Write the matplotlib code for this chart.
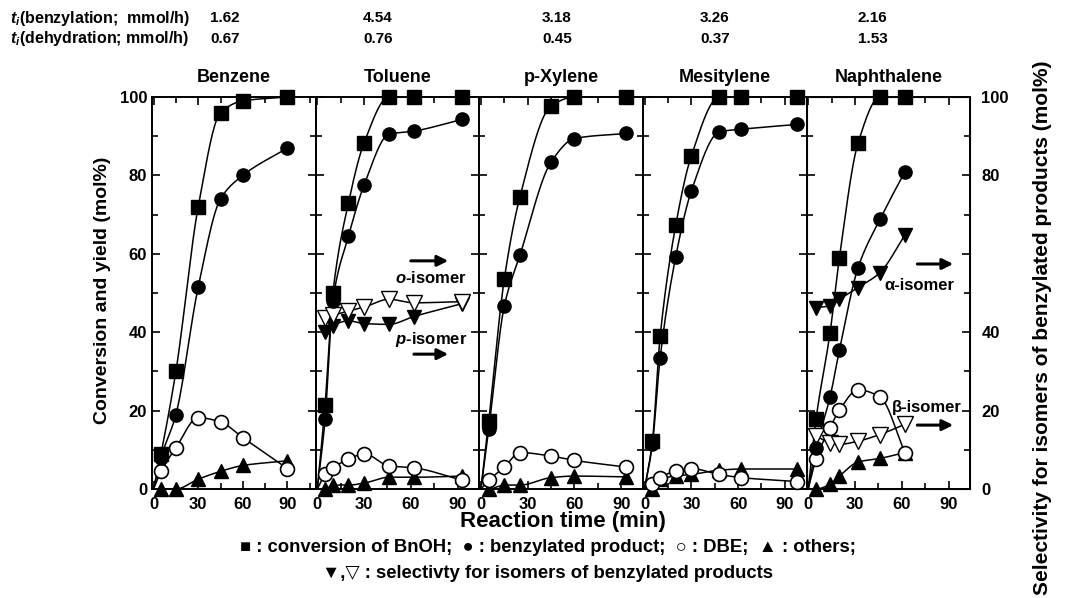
import numpy as np
import matplotlib
matplotlib.use("Agg")
import matplotlib.pyplot as plt
from matplotlib.ticker import MultipleLocator, FixedLocator, FixedFormatter

plt.rcParams['font.family'] = ['Liberation Sans', 'DejaVu Sans']
plt.rcParams['font.weight'] = 'bold'
plt.rcParams['mathtext.fontset'] = 'custom'
plt.rcParams['mathtext.bfit'] = 'Liberation Sans:italic:bold'
plt.rcParams['mathtext.it'] = 'Liberation Sans:italic:bold'
plt.rcParams['mathtext.rm'] = 'Liberation Sans:bold'

# ---- data ----
solvents = ['Benzene', 'Toluene', 'p-Xylene', 'Mesitylene', 'Naphthalene']
rate_benzylation = ['1.62', '4.54', '3.18', '3.26', '2.16']
rate_dehydration = ['0.67', '0.76', '0.45', '0.37', '1.53']

benz_t = [5, 15, 30, 45, 60, 90]
benz_conv = [9, 30, 72, 96, 99, 100]
benz_prod = [8, 19, 51.5, 74, 80, 87]
benz_dbe = [4.5, 10.5, 18.2, 17.1, 13.1, 5.2]
benz_oth = [0, 0, 2.5, 4.5, 6, 7.2]

tol_t = [5, 10, 20, 30, 46, 62, 93]
tol_conv = [21.5, 50, 73, 88.3, 100, 100, 100]
tol_prod = [17.8, 48, 64.5, 77.5, 90.5, 91.3, 94.3]
tol_dbe = [3.7, 5.4, 7.6, 9, 5.9, 5.4, 2.2]
tol_oth = [0, 1, 1, 1.5, 3, 3, 3.3]
tol_ortho = [43.7, 44.3, 45.4, 46.4, 48.4, 47.5, 47.8]
tol_para = [40, 41.7, 42.9, 42.2, 42, 44, 47.3]

xyl_t = [5, 15, 25, 45, 60, 93]
xyl_conv = [17.3, 53.6, 74.5, 97.7, 100, 100]
xyl_prod = [15.2, 46.7, 59.6, 83.4, 89.4, 90.7]
xyl_dbe = [2.2, 5.6, 9.3, 8.4, 7.3, 5.6]
xyl_oth = [0, 1, 1, 2.9, 3.3, 3.1]

mes_t = [5, 10, 20, 30, 48, 62, 98]
mes_conv = [12.2, 39, 67.3, 85, 100, 100, 100]
mes_prod = [11.4, 33.5, 59.3, 76, 91.1, 91.8, 93]
mes_dbe = [1.4, 2.9, 4.6, 5.2, 3.7, 2.9, 1.9]
mes_oth = [0, 2.5, 3.3, 3.7, 4.8, 5.1, 5.1]

nap_t = [5, 14, 20, 32, 46, 62]
nap_conv = [17.8, 39.9, 59, 88.3, 100, 100]
nap_prod = [10.5, 23.5, 35.4, 56.5, 68.8, 80.9]
nap_dbe = [7.6, 15.6, 20.1, 25.3, 23.5, 9.3]
nap_oth = [0, 1.2, 3.3, 6.9, 7.8, 9.3]
nap_alpha = [46.3, 46.7, 48.4, 51.4, 55.2, 64.8]
nap_beta = [13.5, 11.8, 11.4, 12.2, 13.9, 16.5]

panels = [
    (benz_t, benz_conv, benz_prod, benz_dbe, benz_oth, None, None),
    (tol_t, tol_conv, tol_prod, tol_dbe, tol_oth, tol_ortho, tol_para),
    (xyl_t, xyl_conv, xyl_prod, xyl_dbe, xyl_oth, None, None),
    (mes_t, mes_conv, mes_prod, mes_dbe, mes_oth, None, None),
    (nap_t, nap_conv, nap_prod, nap_dbe, nap_oth, nap_beta, nap_alpha),
]


def smooth(x, y, n=300):
    # monotone cubic (Fritsch-Carlson) curve through the points
    x = np.asarray(x, float)
    y = np.asarray(y, float)
    h = np.diff(x)
    d = np.diff(y) / h
    m = np.zeros_like(y)
    m[0] = d[0]
    m[-1] = d[-1]
    for k in range(1, len(x) - 1):
        if d[k - 1] * d[k] > 0:
            w1 = 2 * h[k] + h[k - 1]
            w2 = h[k] + 2 * h[k - 1]
            m[k] = (w1 + w2) / (w1 / d[k - 1] + w2 / d[k])
    xs = np.linspace(x[0], x[-1], n)
    i = np.clip(np.searchsorted(x, xs) - 1, 0, len(x) - 2)
    s = (xs - x[i]) / h[i]
    h00 = 2 * s**3 - 3 * s**2 + 1
    h10 = s**3 - 2 * s**2 + s
    h01 = -2 * s**3 + 3 * s**2
    h11 = s**3 - s**2
    ys = h00 * y[i] + h10 * h[i] * m[i] + h01 * y[i + 1] + h11 * h[i] * m[i + 1]
    return xs, ys


fig, axes = plt.subplots(1, 5, figsize=(10.71, 5.98), dpi=100, sharey=True)
fig.subplots_adjust(left=0.142, right=0.906, top=1 - 97 / 598, bottom=1 - 489 / 598, wspace=0)

lw = 1.1
for k, ax in enumerate(axes):
    t, conv, prod, dbe, oth, open_v, fill_v = panels[k]
    for ys in (conv, prod, dbe, oth):
        xs_, ys_ = smooth([0] + t, [0] + ys)
        ax.plot(xs_, ys_, color='black', lw=lw, zorder=2)
    if open_v is not None:
        xs_, ys_ = smooth(t, open_v)
        ax.plot(xs_, ys_, color='black', lw=lw, zorder=2)
        xs_, ys_ = smooth(t, fill_v)
        ax.plot(xs_, ys_, color='black', lw=lw, zorder=2)
        ax.plot(t, fill_v, 'v', ms=10, mfc='black', mec='black', ls='none', zorder=3, clip_on=False)
        ax.plot(t, open_v, 'v', ms=11, mfc='white', mec='black', mew=1.0, ls='none', zorder=3, clip_on=False)
    ax.plot(t, oth, '^', ms=9.5, color='black', ls='none', zorder=4, clip_on=False)
    ax.plot(t, dbe, 'o', ms=10, mfc='white', mec='black', mew=1.2, ls='none', zorder=4, clip_on=False)
    ax.plot(t, prod, 'o', ms=9.5, color='black', ls='none', zorder=5, clip_on=False)
    ax.plot(t, conv, 's', ms=9.5, color='black', ls='none', zorder=6, clip_on=False)

    ax.set_xlim(-1, 109 if k == 0 else 104)
    ax.set_ylim(0, 100)
    ax.xaxis.set_major_locator(FixedLocator([0, 30, 60, 90]))
    ax.xaxis.set_minor_locator(MultipleLocator(15))
    ax.yaxis.set_major_locator(MultipleLocator(20))
    ax.yaxis.set_minor_locator(MultipleLocator(10))
    ax.tick_params(which='both', direction='in', top=True, right=True, labelsize=12, width=1.2)
    ax.tick_params(which='major', length=6)
    ax.tick_params(which='minor', length=4)
    ax.tick_params(axis='x', pad=6)
    for sp in ax.spines.values():
        sp.set_linewidth(1.4)
    ax.set_title(solvents[k], fontsize=13, fontweight='bold', pad=11)
    for lab in ax.get_xticklabels() + ax.get_yticklabels():
        lab.set_fontweight('bold')

fig.text(103 / 1071, 1 - 290 / 598, 'Conversion and yield (mol%)', rotation=90, ha='center', va='center',
         fontsize=14, fontweight='bold')
fig.text(563 / 1071, 1 - 522 / 598, 'Reaction time (min)', ha='center', va='center', fontsize=16,
         fontweight='bold')

# right axis (selectivity)
axr = axes[4].twinx()
axr.set_ylim(0, 100)
axr.yaxis.set_major_locator(FixedLocator([0, 20, 40, 60, 80, 100]))
axr.yaxis.set_major_formatter(FixedFormatter(['0', '20', '40', '', '80', '100']))
axr.yaxis.set_minor_locator(MultipleLocator(10))
axr.tick_params(which='both', direction='in', labelsize=12, width=1.2, pad=8)
axr.tick_params(which='major', length=6)
axr.tick_params(which='minor', length=4)
for lab in axr.get_yticklabels():
    lab.set_fontweight('bold')
fig.text(1043 / 1071, 1 - 328 / 598, 'Selectivity for isomers of benzylated products (mol%)', rotation=90,
         ha='center', va='center', fontsize=15, fontweight='bold')

# isomer labels with arrows
arrow = dict(arrowstyle='-|>', lw=2.2, color='black', mutation_scale=16, shrinkA=0, shrinkB=0)
ax = axes[1]
ax.annotate('', xy=(84, 58.2), xytext=(60, 58.2), arrowprops=arrow)
ax.text(73, 53.8, r'$\mathbfit{o}$-isomer', ha='center', va='center', fontsize=12, fontweight='bold')
ax.text(73, 38.2, r'$\mathbfit{p}$-isomer', ha='center', va='center', fontsize=12, fontweight='bold')
ax.annotate('', xy=(84, 34.4), xytext=(62, 34.4), arrowprops=arrow)
ax = axes[4]
ax.annotate('', xy=(93, 57.4), xytext=(70, 57.4), arrowprops=arrow)
ax.text(71, 52, 'α-isomer', ha='center', va='center', fontsize=12, fontweight='bold')
ax.text(76, 20.7, 'β-isomer', ha='center', va='center', fontsize=12, fontweight='bold', zorder=7)
ax.annotate('', xy=(93, 16.3), xytext=(70, 16.3), arrowprops=arrow)

# header with rates
fig.text(10 / 1071, 1 - 18 / 598, r'$\mathbfit{t}_{\mathbfit{i}}$(benzylation;  mmol/h)', ha='left', va='center',
         fontsize=11.5, fontweight='bold')
fig.text(10 / 1071, 1 - 39 / 598, r'$\mathbfit{t}_{\mathbfit{i}}$(dehydration; mmol/h)', ha='left', va='center',
         fontsize=11.5, fontweight='bold')
value_x = [210, 363, 542, 700, 858]
for vx, a, b in zip(value_x, rate_benzylation, rate_dehydration):
    fig.text(vx / 1071, 1 - 18 / 598, a, ha='left', va='center', fontsize=11, fontweight='bold')
    fig.text(vx / 1071, 1 - 39 / 598, b, ha='left', va='center', fontsize=11, fontweight='bold')

# symbol key
fig.text(548 / 1071, 1 - 548 / 598,
         '■ : conversion of BnOH;  ● : benzylated product;  ○ : DBE;  ▲ : others;',
         ha='center', va='center', fontsize=13.3, fontweight='bold')
fig.text(548 / 1071, 1 - 574 / 598, '▼,▽ : selectivty for isomers of benzylated products',
         ha='center', va='center', fontsize=13.3, fontweight='bold')

fig.savefig('out.png', dpi=100)
